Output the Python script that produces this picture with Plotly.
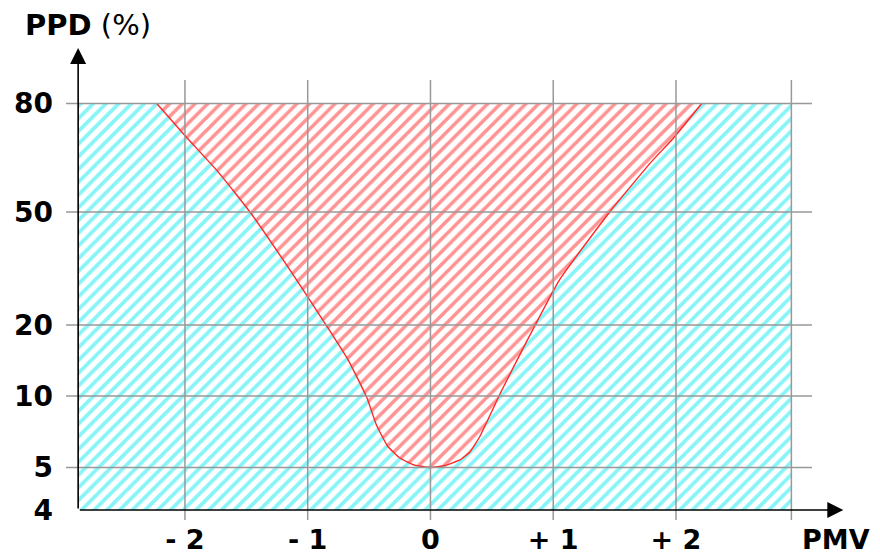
import numpy as np
import plotly.graph_objects as go

# PPD axis is drawn like a probability paper: tick values and their scale positions
PPD_TICKS = [4, 5, 10, 20, 50, 80]
SCALE_POS = [0, 42.5, 114, 185, 298, 406.5]

PMV_TICKS = [-2, -1, 0, 1, 2]
PMV_LABELS = ["- 2", "- 1", "0", "+ 1", "+ 2"]

# comfort zone extent
PMV_MIN, PMV_MAX = -2.87, 2.94
PPD_MIN, PPD_MAX = 4, 80

# PPD curve
PMV_CURVE = [-2.23, -1.99, -1.73, -1.47, -1.20, -1.02, -0.84, -0.67, -0.52, -0.44, -0.35,
             -0.25, -0.13, 0.0, 0.12, 0.24, 0.32, 0.40, 0.485, 0.57, 0.79, 1.05, 1.46,
             1.79, 1.98, 2.21]
PPD_CURVE = [80, 69.2, 59.5, 50, 33.9, 25.9, 19.6, 14.2, 9.9, 7.55, 6.16,
             5.48, 5.12, 5, 5.1, 5.38, 5.8, 6.72, 8.3, 10.3, 17.3, 28.8, 50,
             61.8, 68.9, 80]


def ppd_scale(v):
    return np.interp(np.log10(v), np.log10(PPD_TICKS), SCALE_POS)


font = "DejaVu Sans, Verdana, sans-serif"
cyan = "#10eaf0"
red = "#ff2828"
grid = "#999999"

fig = go.Figure()

# cyan hatched background
fig.add_trace(go.Scatter(
    x=[PMV_MIN, PMV_MAX, PMV_MAX, PMV_MIN, PMV_MIN],
    y=ppd_scale([PPD_MIN, PPD_MIN, PPD_MAX, PPD_MAX, PPD_MIN]),
    mode="lines", fill="toself", line=dict(width=0),
    fillcolor="rgba(0,0,0,0)",
    fillpattern=dict(shape="/", fgcolor=cyan, bgcolor="white", size=9, solidity=0.42),
    hoverinfo="skip", showlegend=False,
))

# red hatched PPD region
fig.add_trace(go.Scatter(
    x=PMV_CURVE, y=ppd_scale(PPD_CURVE),
    mode="lines", fill="toself", line=dict(color=red, width=1.4, shape="spline", smoothing=0.4),
    fillcolor="rgba(0,0,0,0)",
    fillpattern=dict(shape="/", fgcolor=red, bgcolor="white", size=9, solidity=0.4),
    showlegend=False,
))

# grid drawn above the hatching
shapes = []
for v in PMV_TICKS + [PMV_MAX]:
    shapes.append(dict(type="line", xref="x", yref="paper", x0=v, x1=v, y0=0, y1=1,
                       line=dict(color=grid, width=1.5), layer="above"))
for v in PPD_TICKS[1:]:
    y = float(ppd_scale(v))
    shapes.append(dict(type="line", xref="paper", yref="y", x0=0, x1=1, y0=y, y1=y,
                       line=dict(color=grid, width=1.5), layer="above"))

# axes with arrows
annotations = [
    dict(xref="x", yref="paper", x=PMV_MIN, y=1.073, ax=0, ay=462, axref="pixel",
         showarrow=True, arrowhead=2, arrowsize=2, arrowwidth=1.6, arrowcolor="black", text=""),
    dict(xref="paper", yref="y", x=1.042, y=float(ppd_scale(PPD_MIN)), ax=-765, ay=0,
         showarrow=True, arrowhead=2, arrowsize=2, arrowwidth=1.6, arrowcolor="black", text=""),
    dict(xref="paper", yref="paper", x=-0.057, y=1.124, xanchor="left", yanchor="middle",
         showarrow=False, text="<b>PPD</b> (%)", font=dict(family=font, size=29, color="black")),
    dict(xref="paper", yref="paper", x=0.984, y=-0.045, xanchor="left", yanchor="middle",
         showarrow=False, text="<b>PMV</b>", font=dict(family=font, size=27, color="black")),
]

# page body has an 8px margin, so the figure is 8px smaller and margins shifted
fig.update_layout(
    width=872, height=548,
    margin=dict(l=58, r=68, t=72, b=36),
    paper_bgcolor="white", plot_bgcolor="white",
    shapes=shapes, annotations=annotations,
    font=dict(family=font, size=28, color="black"),
    xaxis=dict(range=[-2.969, 3.108], tickvals=PMV_TICKS, ticktext=["<b>%s</b>" % t for t in PMV_LABELS],
               showgrid=False, zeroline=False, showline=False, ticks="", ticklabelstandoff=1,
               tickfont=dict(size=27), automargin=False),
    yaxis=dict(range=[-10, 430], tickvals=ppd_scale(PPD_TICKS),
               ticktext=["<b>%d</b>" % t for t in PPD_TICKS],
               showgrid=False, zeroline=False, showline=False, ticks="", ticklabelstandoff=12,
               automargin=False),
)

fig.write_html("out.html")
